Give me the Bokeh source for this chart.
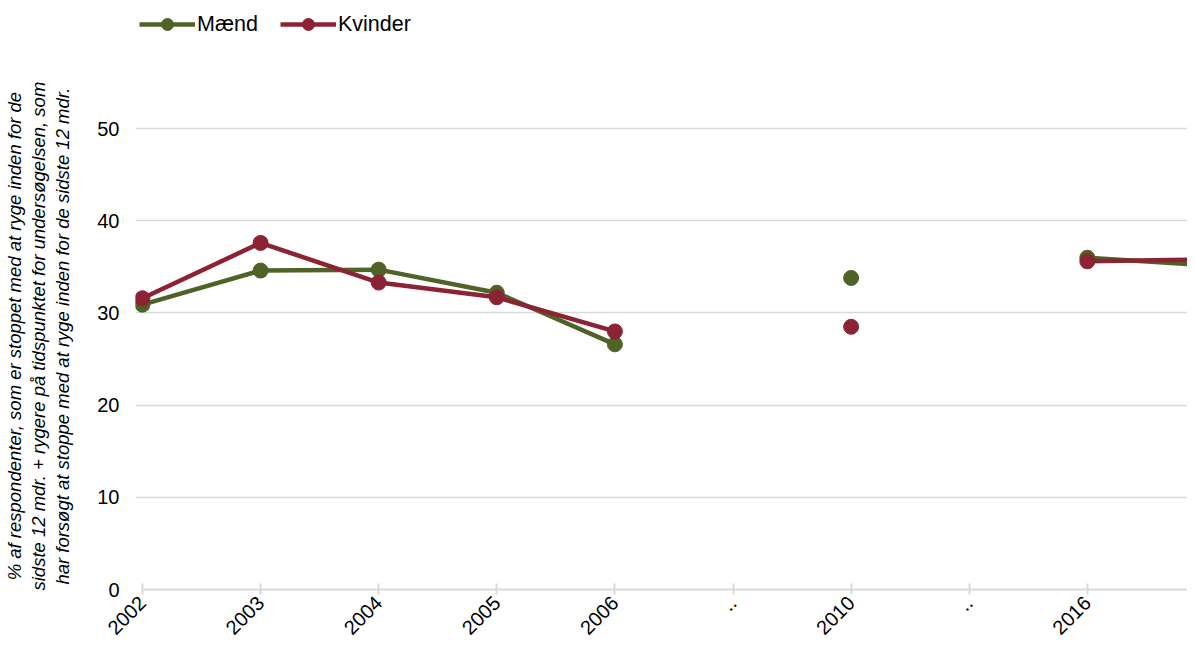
import math
from bokeh.plotting import figure
from bokeh.models import Range1d, FixedTicker, Legend, LegendItem, ColumnDataSource
from bokeh.embed import file_html
from bokeh.resources import INLINE

years = ["2002", "2003", "2004", "2005", "2006", "..", "2010", "..", "2016", "2017"]
maend = [30.9, 34.6, 34.7, 32.2, 26.6, float("nan"), 33.8, float("nan"), 36.0, 35.2]
kvinder = [31.6, 37.6, 33.3, 31.7, 28.0, float("nan"), 28.5, float("nan"), 35.6, 35.8]
y_ticks = [0, 10, 20, 30, 40, 50]

GREEN = "#4F6228"
RED = "#8C2334"
FONT = "Liberation Sans"

xs = list(range(len(years)))
src = ColumnDataSource(dict(x=xs, m=maend, k=kvinder))

p = figure(width=1187, height=643, output_backend="svg", toolbar_location=None,
           x_range=Range1d(-0.059, 8.848), y_range=Range1d(0, 63.9),
           min_border_left=135, min_border_right=0, min_border_top=0, min_border_bottom=50)
p.outline_line_color = None
p.xgrid.grid_line_color = None
p.ygrid.grid_line_color = "#D9D9D9"
p.ygrid.grid_line_width = 1.5

# x axis
p.xaxis.ticker = FixedTicker(ticks=xs)
p.xaxis.major_label_overrides = {i: lab for i, lab in enumerate(years)}
p.xaxis.major_label_orientation = math.pi / 4
p.xaxis.axis_line_color = "#D9D9D9"
p.xaxis.axis_line_width = 2
p.xaxis.major_tick_line_color = "#D9D9D9"
p.xaxis.major_tick_line_width = 2
p.xaxis.major_tick_in = 6
p.xaxis.major_tick_out = 5
p.xaxis.minor_tick_line_color = None
p.xaxis.major_label_text_font = FONT
p.xaxis.major_label_text_font_size = "20px"
p.xaxis.major_label_text_color = "black"
p.xaxis.major_label_standoff = 5
p.xaxis.bounds = (0, len(years) - 1)

# y axis
pad = "\u00a0" * 16
p.yaxis.ticker = FixedTicker(ticks=y_ticks)
p.yaxis.axis_line_color = None
p.yaxis.major_tick_line_color = None
p.yaxis.minor_tick_line_color = None
p.yaxis.major_tick_out = 0
p.yaxis.major_tick_in = 0
p.yaxis.major_label_text_font = FONT
p.yaxis.major_label_text_font_size = "20px"
p.yaxis.major_label_text_color = "black"
p.yaxis.major_label_standoff = 16
p.yaxis.axis_label = ("% af respondenter, som er stoppet med at ryge inden for de" + pad + "\n"
                      "sidste 12 mdr. + rygere på tidspunktet for undersøgelsen, som" + pad + "\n"
                      "har forsøgt at stoppe med at ryge inden for de sidste 12 mdr." + pad)
p.yaxis.axis_label_text_font = FONT
p.yaxis.axis_label_text_font_size = "18.5px"
p.yaxis.axis_label_text_font_style = "italic"
p.yaxis.axis_label_text_color = "black"
p.yaxis.axis_label_text_line_height = 1.15
p.yaxis.axis_label_standoff = 21

lm = p.line("x", "m", source=src, line_color=GREEN, line_width=4.5)
sm = p.scatter("x", "m", source=src, size=15, fill_color=GREEN, line_color=GREEN)
lk = p.line("x", "k", source=src, line_color=RED, line_width=4.5)
sk = p.scatter("x", "k", source=src, size=15, fill_color=RED, line_color=RED)

legend = Legend(items=[LegendItem(label="Mænd", renderers=[lm, sm]),
                       LegendItem(label="Kvinder", renderers=[lk, sk])],
                orientation="horizontal", location=(4, 550))
legend.label_text_font = FONT
legend.label_text_font_size = "21.5px"
legend.label_text_color = "black"
legend.glyph_width = 56
legend.glyph_height = 30
legend.label_standoff = 2
legend.spacing = 22
legend.padding = 0
legend.margin = 0
legend.border_line_color = None
legend.background_fill_alpha = 0
p.add_layout(legend, "center")

open("out.html", "w").write(file_html(p, INLINE))
